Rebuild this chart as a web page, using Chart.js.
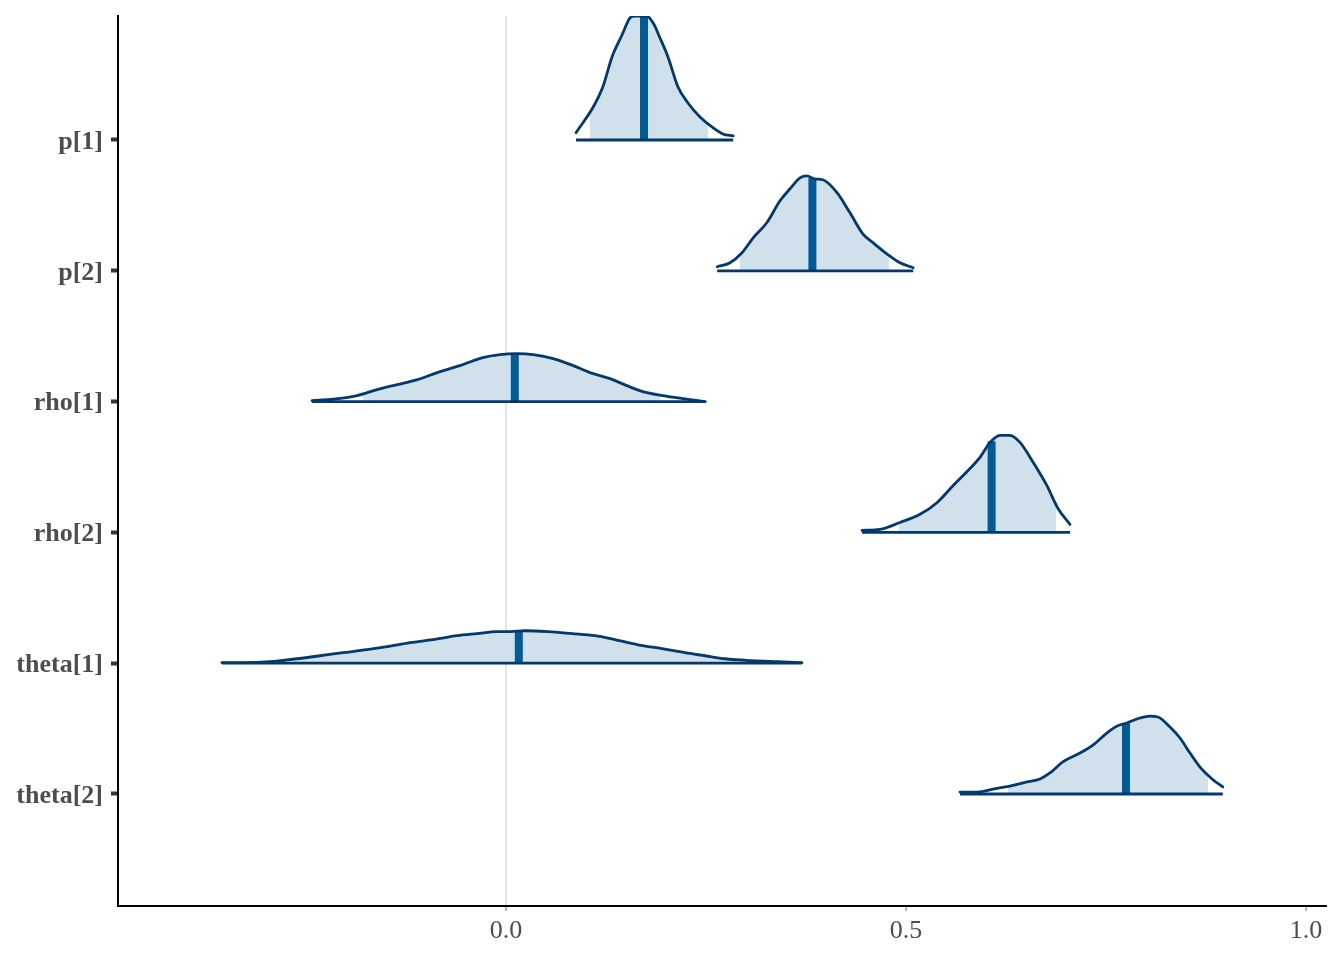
<!DOCTYPE html>
<html>
<head>
<meta charset="utf-8">
<script src="https://cdn.jsdelivr.net/npm/chart.js@4/dist/chart.umd.min.js"></script>
<style>
  html, body { margin: 0; padding: 0; background: #ffffff; }
  #wrap { width: 1344px; height: 960px; }
</style>
</head>
<body>
<div id="wrap"><canvas id="c" width="1344" height="960"></canvas></div>
<script>
// ---- Data ----
const params = ['p[1]', 'p[2]', 'rho[1]', 'rho[2]', 'theta[1]', 'theta[2]'];
const rowPos = [6, 5, 4, 3, 2, 1];
const xTicks = [0, 0.5, 1.0];

// density curves: x values and ridge heights (in row units)
const p1X = [0.0875, 0.109, 0.121, 0.1325, 0.145, 0.155, 0.161, 0.176, 0.184, 0.1925, 0.2025, 0.215, 0.2275, 0.2425, 0.259, 0.271, 0.284];
const p1H = [0.056, 0.252, 0.405, 0.635, 0.803, 0.933, 0.948, 0.948, 0.894, 0.780, 0.635, 0.405, 0.283, 0.176, 0.092, 0.046, 0.031];

const p2X = [0.264, 0.28, 0.295, 0.309, 0.326, 0.3425, 0.355, 0.3675, 0.376, 0.386, 0.396, 0.414, 0.43, 0.446, 0.459, 0.476, 0.4925, 0.509];
const p2H = [0.031, 0.061, 0.138, 0.252, 0.367, 0.535, 0.627, 0.711, 0.726, 0.703, 0.696, 0.596, 0.443, 0.283, 0.214, 0.130, 0.061, 0.023];

const rho1X = [-0.2425, -0.216, -0.186, -0.161, -0.136, -0.111, -0.0825, -0.0575, -0.029, -0.0075, 0.014, 0.034, 0.059, 0.084, 0.105, 0.13, 0.151, 0.171, 0.196, 0.221, 0.249];
const rho1H = [0.008, 0.018, 0.046, 0.092, 0.130, 0.168, 0.229, 0.275, 0.336, 0.359, 0.367, 0.359, 0.329, 0.275, 0.222, 0.176, 0.122, 0.076, 0.046, 0.023, 0.0];

const rho2X = [0.445, 0.4675, 0.4925, 0.5175, 0.539, 0.559, 0.58, 0.5925, 0.605, 0.6175, 0.63, 0.6425, 0.659, 0.676, 0.69, 0.705];
const rho2H = [0.015, 0.023, 0.076, 0.138, 0.229, 0.359, 0.489, 0.573, 0.688, 0.742, 0.742, 0.688, 0.535, 0.359, 0.183, 0.061];

const theta1X = [-0.355, -0.32875, -0.295, -0.26125, -0.2325, -0.20375, -0.17375, -0.14875, -0.12, -0.09125, -0.06125, -0.03625, -0.01125, 0.005, 0.02375, 0.0525, 0.0825, 0.11125, 0.13625, 0.165, 0.195, 0.22375, 0.24875, 0.27375, 0.3075, 0.34, 0.37];
const theta1H = [0.004, 0.004, 0.011, 0.034, 0.057, 0.080, 0.103, 0.126, 0.157, 0.180, 0.210, 0.226, 0.241, 0.241, 0.248, 0.241, 0.226, 0.210, 0.180, 0.141, 0.111, 0.080, 0.057, 0.034, 0.019, 0.011, 0.004];

const theta2X = [0.5675, 0.589, 0.609, 0.63, 0.651, 0.6675, 0.68, 0.696, 0.7175, 0.734, 0.751, 0.764, 0.776, 0.7925, 0.805, 0.815, 0.83, 0.8425, 0.855, 0.8675, 0.884, 0.896];
const theta2H = [0.015, 0.015, 0.038, 0.061, 0.092, 0.115, 0.161, 0.245, 0.313, 0.375, 0.466, 0.520, 0.543, 0.581, 0.596, 0.589, 0.512, 0.428, 0.313, 0.206, 0.107, 0.054];

const medians = [0.1725, 0.383, 0.011, 0.607, 0.016, 0.775];
const innerLo = [0.105, 0.2925, -0.179, 0.491, -0.266, 0.6275];
const innerHi = [0.2525, 0.479, 0.1925, 0.6875, 0.286, 0.8775];

const curveX = [p1X, p2X, rho1X, rho2X, theta1X, theta2X];
const curveH = [p1H, p2H, rho1H, rho2H, theta1H, theta2H];

// ---- colours / styles ----
const COL_FILL = '#d1e1ec';
const COL_LINE = '#03396c';
const COL_MED = '#005b96';
const COL_ZERO = '#e3e3e3';
const TXT = '#4d4d4d';
const FONT = "'Liberation Serif', 'Times New Roman', serif";

function interpH(xs, hs, x) {
  if (x <= xs[0]) return hs[0];
  for (let i = 1; i < xs.length; i++) {
    if (x <= xs[i]) {
      const t = (x - xs[i - 1]) / (xs[i] - xs[i - 1]);
      return hs[i - 1] + t * (hs[i] - hs[i - 1]);
    }
  }
  return hs[hs.length - 1];
}

const datasets = [];
params.forEach((name, i) => {
  const r = rowPos[i];
  const xs = curveX[i], hs = curveH[i];
  const lo = innerLo[i], hi = innerHi[i];
  const inner = [{x: lo, y: r + interpH(xs, hs, lo)}];
  xs.forEach((x, k) => { if (x > lo && x < hi) inner.push({x: x, y: r + hs[k]}); });
  inner.push({x: hi, y: r + interpH(xs, hs, hi)});
  datasets.push({
    label: name + ' interval', data: inner, order: 4,
    borderWidth: 0, borderColor: 'rgba(0,0,0,0)', backgroundColor: COL_FILL,
    fill: {value: r}, pointRadius: 0, cubicInterpolationMode: 'monotone'
  });
  datasets.push({
    label: name + ' median', data: [{x: medians[i], y: r}, {x: medians[i], y: r + interpH(xs, hs, medians[i])}],
    order: 3, borderWidth: 8, borderColor: COL_MED, borderCapStyle: 'butt',
    fill: false, pointRadius: 0
  });
  datasets.push({
    label: name + ' ridge', data: xs.map((x, k) => ({x: x, y: r + hs[k]})), order: 2,
    borderWidth: 2.8, borderColor: COL_LINE, fill: false, pointRadius: 0,
    cubicInterpolationMode: 'monotone', borderCapStyle: 'round', borderJoinStyle: 'round'
  });
  datasets.push({
    label: name + ' base', data: [{x: xs[0], y: r}, {x: xs[xs.length - 1], y: r}], order: 1,
    borderWidth: 2.8, borderColor: COL_LINE, fill: false, pointRadius: 0, borderCapStyle: 'butt'
  });
});

new Chart(document.getElementById('c'), {
  type: 'line',
  data: { datasets: datasets },
  options: {
    responsive: false,
    animation: false,
    layout: { padding: { top: 16, right: 18, left: 0, bottom: 0 } },
    plugins: { legend: { display: false }, tooltip: { enabled: false } },
    scales: {
      x: {
        type: 'linear', min: -0.485, max: 1.025,
        afterBuildTicks: (s) => { s.ticks = xTicks.map(v => ({value: v})); },
        afterFit: (s) => { s.height = 54; s.paddingLeft = 0; s.paddingRight = 0; },
        ticks: {
          callback: (v) => Number(v).toFixed(1),
          color: TXT, font: { family: FONT, size: 26 }, padding: 5, maxRotation: 0
        },
        grid: {
          drawOnChartArea: true, drawTicks: true, tickLength: 5,
          color: (ctx) => (ctx.tick && ctx.tick.value === 0) ? COL_ZERO : 'rgba(0,0,0,0)',
          lineWidth: 2, tickColor: '#888888', tickWidth: 1.2
        },
        border: { display: true, color: '#000000', width: 2 }
      },
      y: {
        type: 'linear', min: 0.1437, max: 6.948,
        afterBuildTicks: (s) => { s.ticks = rowPos.map(v => ({value: v})); },
        afterFit: (s) => { s.width = 118; s.paddingTop = 0; s.paddingBottom = 0; },
        ticks: {
          callback: (v) => { const i = rowPos.indexOf(v); return i >= 0 ? params[i] : ''; },
          color: TXT, font: { family: FONT, size: 26, weight: 'bold' }, padding: 8, labelOffset: 2
        },
        grid: {
          drawOnChartArea: false, drawTicks: true, tickLength: 7,
          tickColor: '#333333', tickWidth: 4
        },
        border: { display: true, color: '#000000', width: 2 }
      }
    }
  }
});
</script>
</body>
</html>
